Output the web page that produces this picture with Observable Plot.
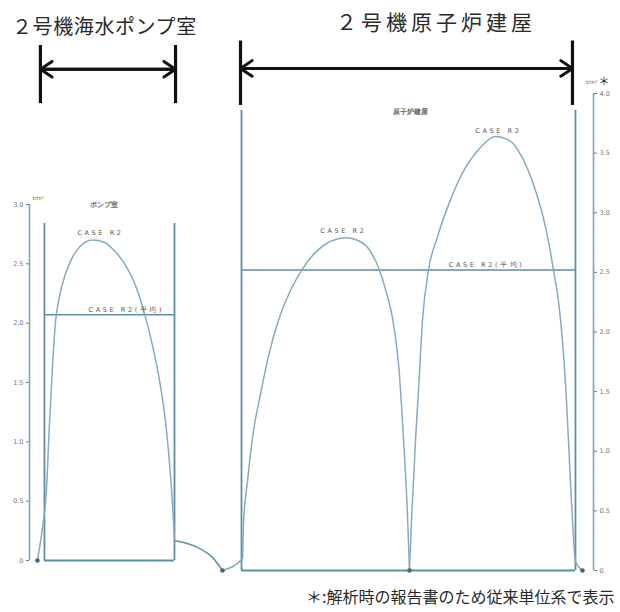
<!DOCTYPE html>
<html><head><meta charset="utf-8">
<script src="https://cdn.jsdelivr.net/npm/d3@7"></script>
<script src="https://cdn.jsdelivr.net/npm/@observablehq/plot@0.6"></script>
<style>
body{margin:0;background:#fff;}
#wrap{position:relative;width:620px;height:612px;overflow:hidden;font-family:"Noto Sans CJK JP",sans-serif;}
#wrap svg{position:absolute;left:0;top:0;}
.t{position:absolute;white-space:nowrap;color:#2a2a2a;line-height:1;}
</style></head><body><div id="wrap"></div>
<script>
// ---- text ----
const pumpTitle = "２号機海水ポンプ室";
const reactorTitle = "２号機原子炉建屋";
const footnote = "＊:解析時の報告書のため従来単位系で表示";
const pumpRoomLabel = "ポンプ室";
const reactorLabel = "原子炉建屋";
const caseLabel = "CASE R2";
const caseAvgLabel = "CASE R2(平均)";
const unitLabel = "t/m²";
const unitMark = "＊";
// ---- ticks ----
const pumpTicks = [0, 0.5, 1, 1.5, 2, 2.5, 3];
const reactorTicks = [0, 0.5, 1, 1.5, 2, 2.5, 3, 3.5, 4];
// ---- pump room: position along wall (% of room width), pressure (t/m²) ----
const pumpPos = [-5.4, -1.5, 1.5, 3.8, 6.2, 8.5, 11.5, 15.4, 20.8, 27.7, 36.9, 46.2, 54.6, 62.3, 69.2, 76.2, 83.1, 89.2, 93.8, 96.9, 99.2, 100];
const pumpVal = [0, 0.28, 0.59, 1.14, 1.64, 2.01, 2.22, 2.39, 2.54, 2.65, 2.70, 2.68, 2.60, 2.49, 2.34, 2.11, 1.81, 1.47, 1.10, 0.72, 0.34, 0.17];
const pumpAvg = 2.07;
const pumpWall = 2.84;
// ---- link between buildings ----
const linkPos = [-19.8, -12.9, -8.7, -5.7];
const linkVal = [0.25, 0.19, 0.11, 0];
// ---- reactor building: two arcs ----
const arc1Pos = [-5.7, 0.3, 0.6, 1.8, 3.6, 5.7, 8.1, 11.1, 14.7, 18.3, 22.2, 26.6, 31.1, 34.7, 38.0, 41.3, 43.4, 45.2, 46.4, 47.3, 47.9, 48.8, 49.7, 50.3];
const arc1Val = [0, 0.10, 0.39, 0.75, 1.17, 1.48, 1.80, 2.10, 2.35, 2.53, 2.67, 2.76, 2.79, 2.77, 2.70, 2.52, 2.33, 2.12, 1.89, 1.64, 1.39, 0.97, 0.47, 0];
const arc2Pos = [50.3, 50.9, 51.5, 52.1, 53.0, 54.2, 56.0, 58.7, 62.6, 67.1, 71.6, 76.0, 80.5, 84.1, 87.4, 90.1, 92.2, 93.4, 94.9, 96.1, 97.3, 98.2, 99.1, 100, 102.1];
const arc2Val = [0, 0.42, 0.75, 1.09, 1.51, 2.10, 2.52, 2.80, 3.11, 3.38, 3.55, 3.64, 3.60, 3.46, 3.24, 2.99, 2.72, 2.52, 2.26, 1.93, 1.43, 0.92, 0.42, 0.08, 0];
const reactorAvg = 2.52;
const reactorWall = 3.86;

// ---- styling ----
const curveColor = "#86abbd";
const boxColor = "#5f8ea5";
const axisColor = "#7fa3b5";
const labelColor = "#555";
const fontFam = "'DejaVu Sans', sans-serif";
const fmt = d => d === 0 ? "0" : d.toFixed(1);
const pts = (xs, ys) => xs.map((x, i) => ({x, y: ys[i]}));
const peakOf = arr => arr.reduce((a, b) => b.y > a.y ? b : a);

const pumpData = pts(pumpPos, pumpVal);
const linkData = pts(linkPos, linkVal);
const arc1 = pts(arc1Pos, arc1Val);
const arc2 = pts(arc2Pos, arc2Val);

const wrap = document.getElementById("wrap");

function bracket(x0, x1, yArrow, yLo, yHi) {
  return [
    Plot.ruleX([x0, x1], {y1: yLo, y2: yHi, stroke: "#111", strokeWidth: 3.2}),
    Plot.arrow([{a: x1, b: x0}, {a: x0, b: x1}], {x1: "a", x2: "b", y1: yArrow, y2: yArrow, bend: 0, headLength: 7, headAngle: 68, stroke: "#111", strokeWidth: 3})
  ];
}

// ---- pump room plot ----
const pumpPlot = Plot.plot({
  width: 620, height: 612,
  marginLeft: 29, marginRight: 446, marginTop: 204, marginBottom: 52,
  x: {domain: [-11.5, 100], axis: null},
  y: {domain: [0, 3], axis: null},
  style: {background: "transparent", fontFamily: fontFam, overflow: "visible"},
  marks: [
    Plot.axisY({ticks: pumpTicks, tickSize: 3, tickPadding: 3, fontSize: 6.5, color: "#777", tickFormat: fmt, label: null}),
    Plot.ruleX([-11.5], {y1: 0, y2: 3, stroke: axisColor, strokeWidth: 1.6}),
    Plot.ruleX([0, 100], {y1: 0, y2: pumpWall, stroke: boxColor, strokeWidth: 1.8}),
    Plot.ruleY([0], {x1: 0, x2: 100, stroke: boxColor, strokeWidth: 1.8}),
    Plot.ruleY([pumpAvg], {x1: 0, x2: 100, stroke: boxColor, strokeWidth: 1.5}),
    Plot.line(pumpData, {x: "x", y: "y", curve: "monotone-x", stroke: curveColor, strokeWidth: 1.5}),
    Plot.dot([pumpData[0]], {x: "x", y: "y", r: 2.3, fill: "#4d6470"}),
    Plot.text([peakOf(pumpData)], {x: "x", y: "y", text: () => caseLabel, dx: 8, dy: -7, fontSize: 6.5, fill: labelColor}),
    Plot.text([pumpAvg], {x: 63, y: d => d, text: () => caseAvgLabel, dy: -5, fontSize: 6.5, fill: labelColor}),
    Plot.text([pumpRoomLabel], {frameAnchor: "top", dx: 1.5, dy: -2, fontSize: 6.5, fontWeight: "bold", fill: "#666"}),
    Plot.text([unitLabel], {frameAnchor: "top-left", textAnchor: "start", dx: 3, dy: -8, fontSize: 5.5, fill: "#666"}),
    ...bracket(-3.1, 100.8, 4.14, 3.85, 4.34)
  ]
});

// ---- reactor building plot ----
const reactorPlot = Plot.plot({
  width: 620, height: 612,
  marginLeft: 241, marginRight: 27, marginTop: 93, marginBottom: 42,
  x: {domain: [0, 105.4], axis: null},
  y: {domain: [0, 4], axis: null},
  style: {background: "transparent", fontFamily: fontFam, overflow: "visible"},
  marks: [
    Plot.axisY({anchor: "right", ticks: reactorTicks, tickSize: 3, tickPadding: 3, fontSize: 6.5, color: "#777", tickFormat: fmt, label: null}),
    Plot.ruleX([105.4], {y1: 0, y2: 4, stroke: axisColor, strokeWidth: 1.6}),
    Plot.ruleX([0, 100], {y1: 0, y2: reactorWall, stroke: boxColor, strokeWidth: 1.8}),
    Plot.ruleY([0], {x1: 0, x2: 100, stroke: boxColor, strokeWidth: 1.8}),
    Plot.ruleY([reactorAvg], {x1: 0, x2: 100, stroke: boxColor, strokeWidth: 1.5}),
    Plot.line(linkData, {x: "x", y: "y", curve: "monotone-x", stroke: boxColor, strokeWidth: 1.5}),
    Plot.line(arc1, {x: "x", y: "y", curve: "monotone-x", stroke: curveColor, strokeWidth: 1.5}),
    Plot.line(arc2, {x: "x", y: "y", curve: "monotone-x", stroke: curveColor, strokeWidth: 1.5}),
    Plot.dot([arc1[0], arc2[0], arc2[arc2.length - 1]], {x: "x", y: "y", r: 2.3, fill: "#4d6470"}),
    Plot.text([peakOf(arc1)], {x: "x", y: "y", text: () => caseLabel, dx: -2, dy: -7, fontSize: 6.5, fill: labelColor}),
    Plot.text([peakOf(arc2)], {x: "x", y: "y", text: () => caseLabel, dx: 3, dy: -6, fontSize: 6.5, fill: labelColor}),
    Plot.text([reactorAvg], {x: 73.4, y: d => d, text: () => caseAvgLabel, dy: -5, fontSize: 6.5, fill: labelColor}),
    Plot.text([reactorLabel], {frameAnchor: "top", dx: -7, dy: 16, fontSize: 6.5, fontWeight: "bold", fill: "#666"}),
    Plot.text([unitLabel], {frameAnchor: "top-right", textAnchor: "end", dx: 4, dy: -13, fontSize: 5.5, fill: "#666"}),
    Plot.text([unitMark], {frameAnchor: "top-right", textAnchor: "start", dx: 5, dy: -16, fontSize: 11, fill: "#222", fontFamily: "'Noto Sans CJK JP', sans-serif"}),
    ...bracket(-0.3, 99.1, 4.21, 3.90, 4.44)
  ]
});

for (const svg of [pumpPlot, reactorPlot]) {
  d3.select(svg).selectAll("text")
    .filter(function() { return this.textContent.startsWith("CASE"); })
    .attr("letter-spacing", 2.6);
  wrap.appendChild(svg);
}

function addText(txt, left, top, size, spacing) {
  const d = document.createElement("div");
  d.className = "t";
  d.textContent = txt;
  d.style.left = left + "px";
  d.style.top = top + "px";
  d.style.fontSize = size + "px";
  d.style.letterSpacing = spacing + "px";
  wrap.appendChild(d);
}
addText(pumpTitle, 12, 16, 20, 0.6);
addText(reactorTitle, 336, 11, 21, 4);
addText(footnote, 306, 588, 16, 0);
</script></body></html>
